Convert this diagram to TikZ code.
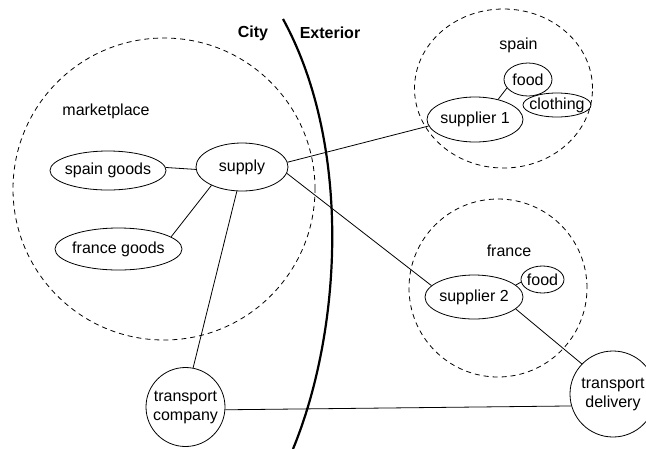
\documentclass[tikz,border=0pt]{standalone}
\usepackage{fontspec}
\setmainfont{Liberation Sans}
\usetikzlibrary{shapes.geometric}
\begin{document}
\begin{tikzpicture}[x=1pt,y=-1pt,
  every node/.style={font=\fontsize{16}{19}\selectfont},
  ell/.style={ellipse, draw, line width=0.8pt, inner sep=0pt},
  circ/.style={circle, draw, line width=0.8pt, inner sep=0pt, align=center},
  region/.style={draw, dash pattern=on 5pt off 4pt, line width=0.8pt, inner sep=0pt},
  link/.style={line width=0.8pt},
  border/.style={line width=2.2pt}]
\useasboundingbox (0,0) rectangle (646,448);

% regions
\node[region, circle, minimum size=302pt] (mkt) at (164,189) {};
\node[region, ellipse, minimum width=178pt, minimum height=159pt] (spr) at (503.5,88.5) {};
\node[region, circle, minimum size=178pt] (frr) at (498,288) {};

% border line
\coordinate (b1) at (283,19);
\coordinate (b2) at (293,449);
\draw[border] (b1) .. controls (352,145) and (342,330) .. (b2);
\node[font=\fontsize{16}{19}\selectfont\bfseries] (city) at (253,33) {City};
\node[font=\fontsize{16}{19}\selectfont\bfseries] (ext) at (330,33) {Exterior};

% labels
\node (lmkt) at (106,111) {marketplace};
\node (lsp) at (518.5,45) {spain};
\node (lfr) at (509,251) {france};

% nodes
\node[ell, minimum width=116pt, minimum height=39pt] (sg) at (108,170.5) {\makebox[0pt]{spain goods}};
\node[ell, minimum width=92pt, minimum height=48pt] (sup) at (242,167) {\makebox[0pt]{supply}};
\node[ell, minimum width=127pt, minimum height=42pt] (fg) at (118.5,249) {\makebox[0pt]{france goods}};
\node[circ, minimum size=79pt] (tc) at (185.5,407) {transport\\company};
\node[circ, minimum size=86pt] (td) at (613,394) {transport\\delivery};

\node[ell, minimum width=96pt, minimum height=45pt] (s1) at (475,119.5) {\makebox[0pt]{supplier 1}};
\node[ell, minimum width=48pt, minimum height=33pt] (f1) at (528,79.5) {\makebox[0pt]{food}};
\node[ell, minimum width=68pt, minimum height=24pt] (cl) at (557,105) {\makebox[0pt]{clothing}};

\node[ell, minimum width=98pt, minimum height=44pt] (s2) at (474,297) {\makebox[0pt]{supplier 2}};
\node[ell, minimum width=43pt, minimum height=27pt] (f2) at (542.5,279.5) {\makebox[0pt]{food}};

% links
\draw[link] (sg.3) -- (sup.183);
\draw[link] (fg.13) -- (sup.211);
\draw[link] (sup.258) -- (tc.79);
\draw[link] (sup.6) -- (s1.188);
\draw[link] (sup.-8) -- (s2.165);
\draw[link] (f1.202) -- (s1.41);
\draw[link] (f2.187) -- (s2.16);
\draw[link] (s2.-16) -- (td.136);
\draw[link] (tc.-4) -- (td.196);
\end{tikzpicture}
\end{document}
